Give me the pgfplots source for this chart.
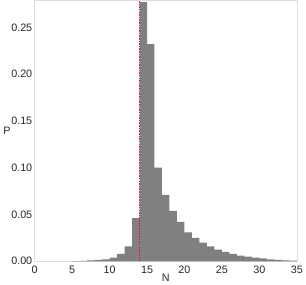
\documentclass[border=0pt]{standalone}
\usepackage{fontspec}
\setmainfont{Liberation Sans}
\usepackage{pgfplots}
\pgfplotsset{compat=1.18}
\definecolor{bargray}{RGB}{128,128,128}
\definecolor{framegray}{RGB}{222,222,222}
\definecolor{vred}{RGB}{220,30,40}
\begin{document}
\begin{tikzpicture}
\begin{axis}[
  scale only axis,
  width=268pt, height=267pt,
  xmin=0, xmax=35, ymin=0, ymax=0.279,
  xtick={0,5,10,15,20,25,30,35},
  ytick={0,0.05,0.10,0.15,0.20,0.25},
  /pgf/number format/assume math mode=true,
  yticklabel style={/pgf/number format/fixed, /pgf/number format/fixed zerofill, /pgf/number format/precision=2},
  tick label style={font=\fontsize{11}{13}\selectfont, text=black!85},
  label style={font=\fontsize{11}{13}\selectfont, text=black!85},
  axis line style={framegray},
  major tick length=0pt,
  xtick pos=bottom, ytick pos=left,
  xticklabel style={yshift=-1pt},
  yticklabel style={xshift=1pt},
  xlabel={N}, ylabel={P},
  xlabel style={yshift=6pt},
  ylabel style={rotate=-90, xshift=6pt},
  clip=true,
]
\addplot[ybar interval, fill=bargray, draw=none] coordinates {
(5,0.0002) (6,0.0005) (7,0.001) (8,0.0015) (9,0.002) (10,0.004)
(11,0.008) (12,0.016) (13,0.046) (14,0.277) (15,0.232) (16,0.100)
(17,0.071) (18,0.054) (19,0.042) (20,0.031) (21,0.025) (22,0.020)
(23,0.016) (24,0.0125) (25,0.010) (26,0.008) (27,0.006) (28,0.005)
(29,0.004) (30,0.003) (31,0.002) (32,0.0015) (33,0.001) (34,0.0006) (35,0)
};
\addplot[color=vred, mark=none, line width=1.3pt, dash pattern=on 1.6pt off 1.1pt, forget plot] coordinates {(14,0) (14,0.279)};
\end{axis}
\end{tikzpicture}
\end{document}
